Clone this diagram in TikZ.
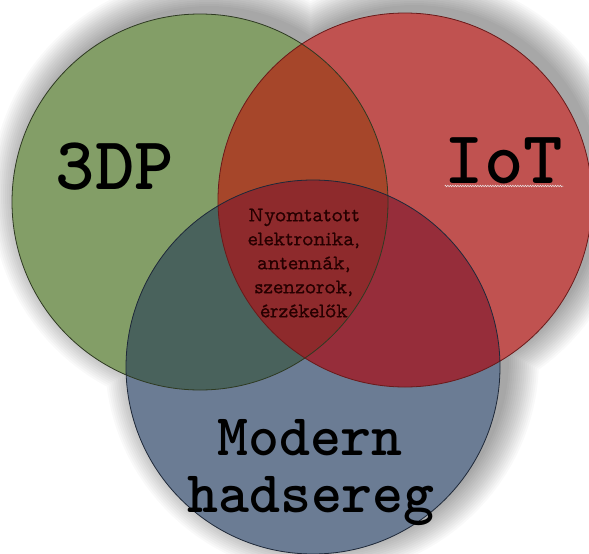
\documentclass[tikz,border=0pt]{standalone}
\usepackage{fontspec}
\newfontfamily\bigtt{lmmonolt10-bold.otf}
\newfontfamily\proptt[FakeBold=0.6]{lmmonoprop10-regular.otf}
\usetikzlibrary{decorations.pathmorphing}
\definecolor{gfill}{HTML}{839E67}
\definecolor{rfill}{HTML}{C05250}
\definecolor{bfill}{HTML}{6B7C94}
\definecolor{grfill}{HTML}{A6462A}
\definecolor{gbfill}{HTML}{49625C}
\definecolor{rbfill}{HTML}{962D3A}
\definecolor{allfill}{HTML}{8E2A2C}
\definecolor{gline}{HTML}{2E3A22}
\definecolor{rline}{HTML}{6A1A1A}
\definecolor{bline}{HTML}{1E2838}
\tikzset{
  bigtext/.style={font=\bigtt\fontsize{75}{75}\selectfont, text=black, inner sep=0pt, anchor=base},
  midtext/.style={font=\bigtt\fontsize{59}{57}\selectfont, text=black, inner sep=0pt, anchor=base},
  smalltext/.style={font=\proptt\fontsize{21}{24}\selectfont, text=black!85!red, inner sep=0pt, align=center},
  ring/.style={line width=0.8pt},
  shadowlayer/.style={fill=black, fill opacity=0.025}
}
\begin{document}
\begin{tikzpicture}[x=1pt,y=-1pt]
\useasboundingbox (0,0) rectangle (589,554);
\fill[white] (0,0) rectangle (589,554);
\coordinate (G) at (200,202);
\coordinate (R) at (405,200);
\coordinate (B) at (313,367);
\coordinate (Gs) at (209,194);
\coordinate (Rs) at (414,192);
\coordinate (Bs) at (322,359);
\foreach \d in {0,2,...,30} {
  \path[shadowlayer] (Gs) circle[radius=188pt+\d pt] (Rs) circle[radius=187pt+\d pt] (Bs) circle[radius=187pt+\d pt];
}
\fill[gfill] (G) circle[radius=188pt];
\fill[rfill] (R) circle[radius=187pt];
\fill[bfill] (B) circle[radius=187pt];
\begin{scope}
  \clip (G) circle[radius=188pt];
  \fill[grfill] (R) circle[radius=187pt];
  \fill[gbfill] (B) circle[radius=187pt];
\end{scope}
\begin{scope}
  \clip (R) circle[radius=187pt];
  \fill[rbfill] (B) circle[radius=187pt];
\end{scope}
\begin{scope}
  \clip (G) circle[radius=188pt];
  \clip (R) circle[radius=187pt];
  \fill[allfill] (B) circle[radius=187pt];
\end{scope}
\draw[ring,gline] (G) circle[radius=188pt];
\draw[ring,rline] (R) circle[radius=187pt];
\draw[ring,bline] (B) circle[radius=187pt];
\node[bigtext] (t3dp) at (115,189) {3DP};
\node[bigtext] (tiot) at (504,183) {IoT};
\draw[white!85!gray, line width=0.5pt, decorate, decoration={zigzag,amplitude=0.8pt,segment length=2.5pt}]
  ([yshift=-3pt]tiot.base west) -- ([yshift=-3pt]tiot.base east);
\node[midtext] (tmod) at (310,455) {Modern};
\node[midtext] (thad) at (311,512) {hadsereg};
\node[smalltext] (tmid) at (304,263) {Nyomtatott\\elektronika,\\antennák,\\szenzorok,\\érzékelők};
\end{tikzpicture}
\end{document}
